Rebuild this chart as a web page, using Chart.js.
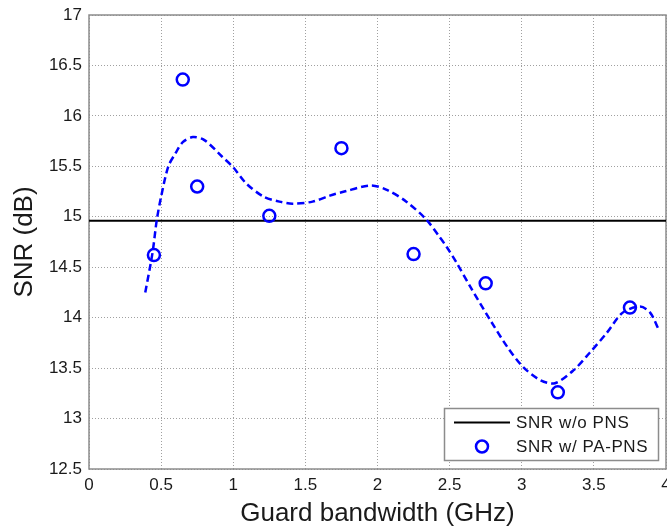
<!DOCTYPE html>
<html>
<head>
<meta charset="utf-8">
<script src="https://cdn.jsdelivr.net/npm/chart.js@4/dist/chart.umd.min.js"></script>
<style>
  html, body { margin: 0; padding: 0; background: #fff; }
  #wrap { width: 667px; height: 529px; }
</style>
</head>
<body>
<div id="wrap"><canvas id="c" width="667" height="529"></canvas></div>
<script>
// ---- data ----
const guardBW = [0.45, 0.65, 0.75, 1.25, 1.75, 2.25, 2.75, 3.25, 3.75];
const snrPAPNS = [14.62, 16.36, 15.30, 15.01, 15.68, 14.63, 14.34, 13.26, 14.10];
const fitX = [0.39, 0.44, 0.47, 0.50, 0.55, 0.60, 0.65, 0.72, 0.80, 0.92, 1.00, 1.09, 1.21, 1.32, 1.41, 1.55, 1.67, 1.77, 1.95, 2.06, 2.20, 2.34, 2.43, 2.48, 2.55, 2.65, 2.78, 2.90, 3.01, 3.13, 3.23, 3.36, 3.47, 3.59, 3.70, 3.82, 3.89, 3.95];
const fitY = [14.25, 14.64, 14.97, 15.20, 15.50, 15.63, 15.74, 15.79, 15.76, 15.60, 15.49, 15.33, 15.20, 15.15, 15.13, 15.15, 15.21, 15.25, 15.31, 15.27, 15.15, 14.97, 14.80, 14.70, 14.54, 14.29, 13.98, 13.71, 13.51, 13.38, 13.35, 13.48, 13.65, 13.85, 14.05, 14.11, 14.05, 13.88];
const refX = [0, 4];
const snrNoPNS = [14.96, 14.96];
const xTicks = [0, 0.5, 1, 1.5, 2, 2.5, 3, 3.5, 4];
const yTicks = [12.5, 13, 13.5, 14, 14.5, 15, 15.5, 16, 16.5, 17];
const labels = { noPNS: 'SNR w/o PNS', paPNS: 'SNR w/ PA-PNS', x: 'Guard bandwidth (GHz)', y: 'SNR (dB)' };

const FONT = "'Liberation Sans', Arial, sans-serif";
const TXT = '#1a1a1a';

const toPts = (xs, ys) => xs.map((x, i) => ({ x: x, y: ys[i] }));

const frame = {
  id: 'frame',
  beforeDatasetsDraw(chart) {
    const { ctx, chartArea: a } = chart;
    ctx.save();
    ctx.strokeStyle = '#8c8c8c';
    ctx.lineWidth = 1.5;
    ctx.strokeRect(a.left, a.top, a.right - a.left, a.bottom - a.top);
    ctx.restore();
  }
};

const boxLegend = {
  id: 'boxLegend',
  afterDraw(chart) {
    const { ctx, chartArea: a } = chart;
    const w = 214, h = 52;
    const x0 = a.right - 8 - w, y0 = a.bottom - 9 - h;
    ctx.save();
    ctx.fillStyle = '#fff';
    ctx.fillRect(x0, y0, w, h);
    ctx.strokeStyle = '#8c8c8c';
    ctx.lineWidth = 1.5;
    ctx.strokeRect(x0 + 0.5, y0 + 0.5, w, h);
    const ds = chart.data.datasets;
    const y1 = y0 + 14.5, y2 = y0 + 38.5;
    ctx.strokeStyle = ds[0].borderColor;
    ctx.lineWidth = 2;
    ctx.beginPath(); ctx.moveTo(x0 + 10, y1); ctx.lineTo(x0 + 66, y1); ctx.stroke();
    ctx.strokeStyle = ds[1].borderColor;
    ctx.lineWidth = 2.5;
    ctx.beginPath(); ctx.arc(x0 + 38, y2, 6, 0, Math.PI * 2); ctx.stroke();
    ctx.fillStyle = TXT;
    ctx.font = '17px ' + FONT;
    try { ctx.letterSpacing = '0.6px'; } catch (e) {}
    ctx.textBaseline = 'middle';
    ctx.textAlign = 'left';
    ctx.fillText(ds[0].label, x0 + 72, y1 + 1);
    ctx.fillText(ds[1].label, x0 + 72, y2 + 1);
    ctx.restore();
  }
};

new Chart(document.getElementById('c'), {
  type: 'scatter',
  data: {
    datasets: [
      {
        label: labels.noPNS,
        data: toPts(refX, snrNoPNS),
        showLine: true,
        borderColor: '#000000',
        borderWidth: 2,
        pointRadius: 0,
        order: 3
      },
      {
        label: labels.paPNS,
        data: toPts(guardBW, snrPAPNS),
        showLine: false,
        borderColor: '#0000ff',
        backgroundColor: 'rgba(0,0,0,0)',
        pointRadius: 6,
        pointBorderWidth: 2.5,
        pointHoverRadius: 6,
        order: 1
      },
      {
        label: 'fit',
        data: toPts(fitX, fitY),
        showLine: true,
        borderColor: '#0000ff',
        borderWidth: 2.5,
        borderDash: [7, 4],
        pointRadius: 0,
        tension: 0.3,
        order: 2
      }
    ]
  },
  options: {
    responsive: false,
    animation: false,
    events: [],
    layout: { autoPadding: false, padding: { top: 15, right: 1, left: 0, bottom: 0 } },
    plugins: { legend: { display: false }, tooltip: { enabled: false } },
    scales: {
      x: {
        type: 'linear',
        min: 0, max: 4,
        afterBuildTicks: s => { s.ticks = xTicks.map(v => ({ value: v })); },
        afterFit: s => { s.height = 60; s.paddingRight = 0; },
        ticks: { color: TXT, font: { family: FONT, size: 17 }, padding: 6, maxRotation: 0,
                 callback: v => String(v) },
        grid: { color: '#a0a0a0', lineWidth: 1, drawTicks: false },
        border: { display: false, dash: [1, 2] },
        title: { display: true, text: labels.x, color: TXT, font: { family: FONT, size: 26 },
                 padding: { top: 0, bottom: 0 } }
      },
      y: {
        type: 'linear',
        min: 12.5, max: 17,
        afterBuildTicks: s => { s.ticks = yTicks.map(v => ({ value: v })); },
        afterFit: s => { s.width = 89; s.paddingTop = 0; },
        ticks: { color: TXT, font: { family: FONT, size: 17 }, padding: 7,
                 callback: v => String(v) },
        grid: { color: '#a0a0a0', lineWidth: 1, drawTicks: false },
        border: { display: false, dash: [1, 2] },
        title: { display: true, text: labels.y, color: TXT, font: { family: FONT, size: 26 },
                 padding: { top: 9, bottom: 0 } }
      }
    }
  },
  plugins: [frame, boxLegend]
});
</script>
</body>
</html>
